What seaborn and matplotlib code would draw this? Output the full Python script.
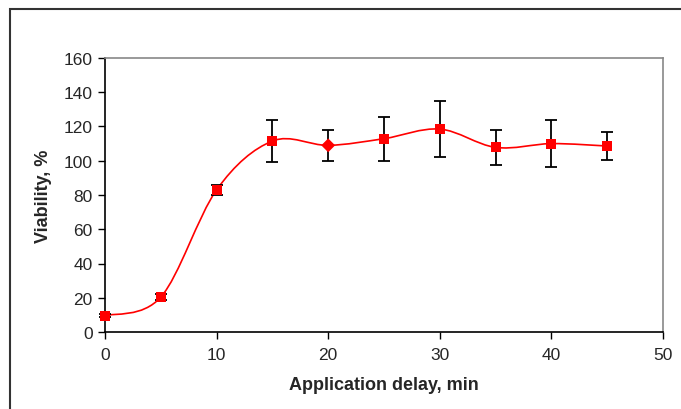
import numpy as np
import pandas as pd
import seaborn as sns
import matplotlib.pyplot as plt
from matplotlib.path import Path
from matplotlib.patches import PathPatch, Rectangle

# data
delay = [0, 5, 10, 15, 20, 25, 30, 35, 40, 45]
viability = [9.5, 20.4, 83.0, 111.5, 109.0, 112.9, 118.5, 107.8, 110.0, 108.6]
err = [1.0, 2.0, 3.0, 12.2, 9.1, 12.8, 16.3, 10.0, 13.6, 8.2]
marker_kind = ['s', 's', 's', 's', 'D', 's', 's', 's', 's', 's']

df = pd.DataFrame({'delay': delay, 'viability': viability, 'err': err, 'kind': marker_kind})

sns.set_style('white')
plt.rcParams['font.family'] = ['Liberation Sans', 'DejaVu Sans']

fig = plt.figure(figsize=(6.81, 4.10), dpi=100)
ax = fig.add_axes([105 / 681, 77 / 410, 558 / 681, 274 / 410])

# outer chart frame
fig.patches.append(Rectangle((10 / 681, -0.1), 1.2, 1 - 10 / 410 + 0.1,
                             transform=fig.transFigure, fill=False,
                             edgecolor='#333333', linewidth=1.5))

# smoothed line (Excel style bezier through the points)
pts = np.column_stack([df['delay'], df['viability']]).astype(float)
verts = [pts[0]]
codes = [Path.MOVETO]
n = len(pts)
for i in range(n - 1):
    p0 = pts[max(i - 1, 0)]
    p1 = pts[i]
    p2 = pts[i + 1]
    p3 = pts[min(i + 2, n - 1)]
    c1 = p1 + (p2 - p0) / 6
    c2 = p2 - (p3 - p1) / 6
    verts += [c1, c2, p2]
    codes += [Path.CURVE4] * 3
ax.add_patch(PathPatch(Path(verts, codes), facecolor='none', edgecolor='red',
                       linewidth=1.2, zorder=2, clip_on=False))

# error bars
eb = ax.errorbar(df['delay'], df['viability'], yerr=df['err'], fmt='none',
                 ecolor='black', elinewidth=1.3, capsize=4, capthick=1.3, zorder=3)
for art in eb.lines[1] + eb.lines[2]:
    art.set_clip_on(False)

# markers
sns.scatterplot(data=df, x='delay', y='viability', style='kind',
                markers={'s': 's', 'D': 'D'}, color='red', s=50,
                edgecolor='red', linewidth=0, legend=False, ax=ax, zorder=4,
                clip_on=False)

ax.set_xlim(0, 50)
ax.set_ylim(0, 160)
ax.set_xticks(range(0, 51, 10))
ax.set_yticks(range(0, 161, 20))
ax.tick_params(axis='both', direction='out', length=5, width=1, color='black',
               labelsize=12.5, left=True, bottom=True, pad=4)
ax.tick_params(axis='x', pad=6)

for side in ['left', 'bottom']:
    ax.spines[side].set_color('black')
    ax.spines[side].set_linewidth(1.2)
for side in ['top', 'right']:
    ax.spines[side].set_color('#888888')
    ax.spines[side].set_linewidth(1.2)

ax.set_xlabel('Application delay, min', fontsize=13, fontweight='bold', labelpad=10)
ax.set_ylabel('Viability, %', fontsize=13, fontweight='bold', labelpad=8)

fig.savefig('out.png', dpi=100)
